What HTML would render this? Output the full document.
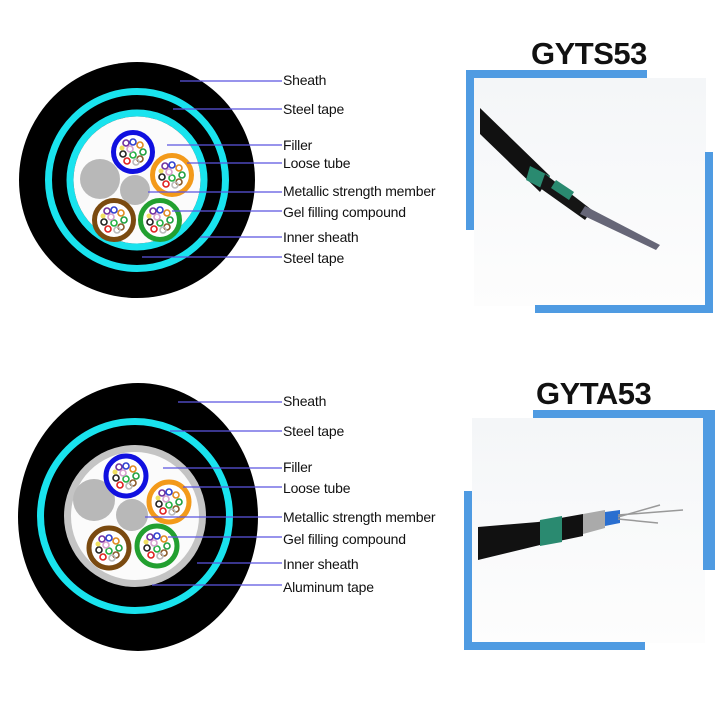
<!DOCTYPE html>
<html><head><meta charset="utf-8"><style>
html,body{margin:0;padding:0;background:#fff;}
svg{display:block}
text{font-family:"Liberation Sans",Arial,sans-serif;}
.l{font-size:14px;fill:#111;letter-spacing:-0.2px}
.t{font-size:31px;font-weight:bold;fill:#111;letter-spacing:-0.5px}
.ln{stroke:#5b55e0;stroke-width:1.3}
</style></head><body>
<svg width="720" height="720" viewBox="0 0 720 720" xmlns="http://www.w3.org/2000/svg">
<defs>
<g id="fib">
<circle cx="-7" cy="-9" r="3" fill="none" stroke="#7030a0" stroke-width="1.6"/>
<circle cx="0" cy="-10" r="3" fill="none" stroke="#3040d0" stroke-width="1.6"/>
<circle cx="7" cy="-7" r="3" fill="none" stroke="#e08a20" stroke-width="1.6"/>
<circle cx="10" cy="0" r="3" fill="none" stroke="#20a040" stroke-width="1.6"/>
<circle cx="7" cy="7" r="3" fill="none" stroke="#8a5a2a" stroke-width="1.6"/>
<circle cx="0" cy="3" r="3" fill="none" stroke="#20b040" stroke-width="1.6"/>
<circle cx="-10" cy="2" r="3" fill="none" stroke="#222" stroke-width="1.6"/>
<circle cx="-6" cy="9" r="3" fill="none" stroke="#e02020" stroke-width="1.6"/>
<circle cx="-3" cy="-3" r="3" fill="none" stroke="#d8a0d0" stroke-width="1.6"/>
<circle cx="3" cy="10" r="3" fill="none" stroke="#bbb" stroke-width="1.6"/>
<circle cx="-11" cy="-4" r="2.5" fill="#f0e060"/>
</g>
<linearGradient id="bg" x1="0" y1="0" x2="0" y2="1"><stop offset="0" stop-color="#f4f6f8"/><stop offset="1" stop-color="#fdfdfd"/></linearGradient>
</defs>

<!-- Top cross-section -->
<circle cx="137" cy="180" r="118" fill="#000"/>
<circle cx="137" cy="180" r="88.5" fill="none" stroke="#19e3ee" stroke-width="7"/>
<circle cx="137" cy="180" r="67" fill="none" stroke="#19e3ee" stroke-width="7"/>
<circle cx="137" cy="180" r="63.5" fill="#fbfbfb"/>
<circle cx="100" cy="179" r="20" fill="#b8b8b8"/>
<circle cx="135" cy="190" r="15" fill="#b8b8b8"/>
<circle cx="133" cy="152" r="19.5" fill="#fff" stroke="#1010e0" stroke-width="5"/>
<use href="#fib" x="133" y="152"/>
<circle cx="172" cy="175" r="19.5" fill="#fff" stroke="#f39a1a" stroke-width="5"/>
<use href="#fib" x="172" y="175"/>
<circle cx="114" cy="220" r="19.5" fill="#fff" stroke="#7a4a10" stroke-width="5"/>
<use href="#fib" x="114" y="220"/>
<circle cx="160" cy="220" r="19.5" fill="#fff" stroke="#22a030" stroke-width="5"/>
<use href="#fib" x="160" y="220"/>

<g class="ln">
<line x1="180" y1="81" x2="282" y2="81"/>
<line x1="173" y1="109" x2="282" y2="109"/>
<line x1="167" y1="145" x2="282" y2="145"/>
<line x1="187" y1="163" x2="282" y2="163"/>
<line x1="148" y1="192" x2="282" y2="192"/>
<line x1="172" y1="211" x2="282" y2="211"/>
<line x1="200" y1="237" x2="282" y2="237"/>
<line x1="142" y1="257" x2="282" y2="257"/>
</g>
<text class="l" x="283" y="85">Sheath</text>
<text class="l" x="283" y="114">Steel tape</text>
<text class="l" x="283" y="150">Filler</text>
<text class="l" x="283" y="168">Loose tube</text>
<text class="l" x="283" y="196">Metallic strength member</text>
<text class="l" x="283" y="217">Gel filling compound</text>
<text class="l" x="283" y="242">Inner sheath</text>
<text class="l" x="283" y="263">Steel tape</text>

<!-- Bottom cross-section -->
<ellipse cx="138" cy="517" rx="120" ry="134" fill="#000"/>
<circle cx="135" cy="516" r="94.5" fill="none" stroke="#19e3ee" stroke-width="7"/>
<circle cx="135" cy="516" r="71" fill="#c4c4c4"/>
<circle cx="135" cy="516" r="64" fill="#fbfbfb"/>
<circle cx="94" cy="500" r="21" fill="#b8b8b8"/>
<circle cx="132" cy="515" r="16" fill="#b8b8b8"/>
<circle cx="126" cy="476" r="20" fill="#fff" stroke="#1010e0" stroke-width="5"/>
<use href="#fib" x="126" y="476"/>
<circle cx="169" cy="502" r="20" fill="#fff" stroke="#f39a1a" stroke-width="5"/>
<use href="#fib" x="169" y="502"/>
<circle cx="109" cy="548" r="20" fill="#fff" stroke="#7a4a10" stroke-width="5"/>
<use href="#fib" x="109" y="548"/>
<circle cx="157" cy="546" r="20" fill="#fff" stroke="#22a030" stroke-width="5"/>
<use href="#fib" x="157" y="546"/>

<g class="ln">
<line x1="178" y1="402" x2="282" y2="402"/>
<line x1="170" y1="431" x2="282" y2="431"/>
<line x1="163" y1="468" x2="282" y2="468"/>
<line x1="183" y1="487" x2="282" y2="487"/>
<line x1="145" y1="517" x2="282" y2="517"/>
<line x1="168" y1="537" x2="282" y2="537"/>
<line x1="197" y1="563" x2="282" y2="563"/>
<line x1="152" y1="585" x2="282" y2="585"/>
</g>
<text class="l" x="283" y="406">Sheath</text>
<text class="l" x="283" y="436">Steel tape</text>
<text class="l" x="283" y="472">Filler</text>
<text class="l" x="283" y="493">Loose tube</text>
<text class="l" x="283" y="522">Metallic strength member</text>
<text class="l" x="283" y="544">Gel filling compound</text>
<text class="l" x="283" y="569">Inner sheath</text>
<text class="l" x="283" y="592">Aluminum tape</text>

<!-- Top photo -->
<text class="t" x="531" y="64">GYTS53</text>
<rect x="474" y="78" width="232" height="228" fill="url(#bg)"/>
<polygon points="480,108 480,134 540,192 550,176" fill="#111"/>
<polygon points="530,166 550,176 545,190 526,180" fill="#2a8a70"/>
<polygon points="545,174 592,210 585,220 540,188" fill="#151515"/>
<polygon points="556,180 574,192 569,200 551,188" fill="#2a8a70"/>
<polygon points="585,206 660,245 656,250 580,214" fill="#667"/>
<rect x="466" y="70" width="181" height="8" fill="#4f9be2"/>
<rect x="466" y="70" width="8" height="160" fill="#4f9be2"/>
<rect x="705" y="152" width="8" height="160" fill="#4f9be2"/>
<rect x="535" y="305" width="178" height="8" fill="#4f9be2"/>

<!-- Bottom photo -->
<text class="t" x="536" y="404">GYTA53</text>
<rect x="472" y="418" width="233" height="225" fill="url(#bg)"/>
<polygon points="478,527 538,522 583,514 583,536 540,545 478,560" fill="#111"/>
<polygon points="540,520 562,516 562,542 540,546" fill="#2a8a70"/>
<polygon points="583,514 605,510 605,528 583,534" fill="#aaa"/>
<polygon points="605,512 620,510 620,523 605,526" fill="#2a6fd0"/>
<g stroke="#999" stroke-width="1.5"><line x1="618" y1="515" x2="683" y2="510"/><line x1="618" y1="517" x2="660" y2="505"/><line x1="618" y1="519" x2="658" y2="523"/></g>
<rect x="533" y="410" width="182" height="8" fill="#4f9be2"/>
<rect x="703" y="410" width="12" height="160" fill="#4f9be2"/>
<rect x="464" y="491" width="8" height="159" fill="#4f9be2"/>
<rect x="464" y="642" width="181" height="8" fill="#4f9be2"/>
</svg>
</body></html>
